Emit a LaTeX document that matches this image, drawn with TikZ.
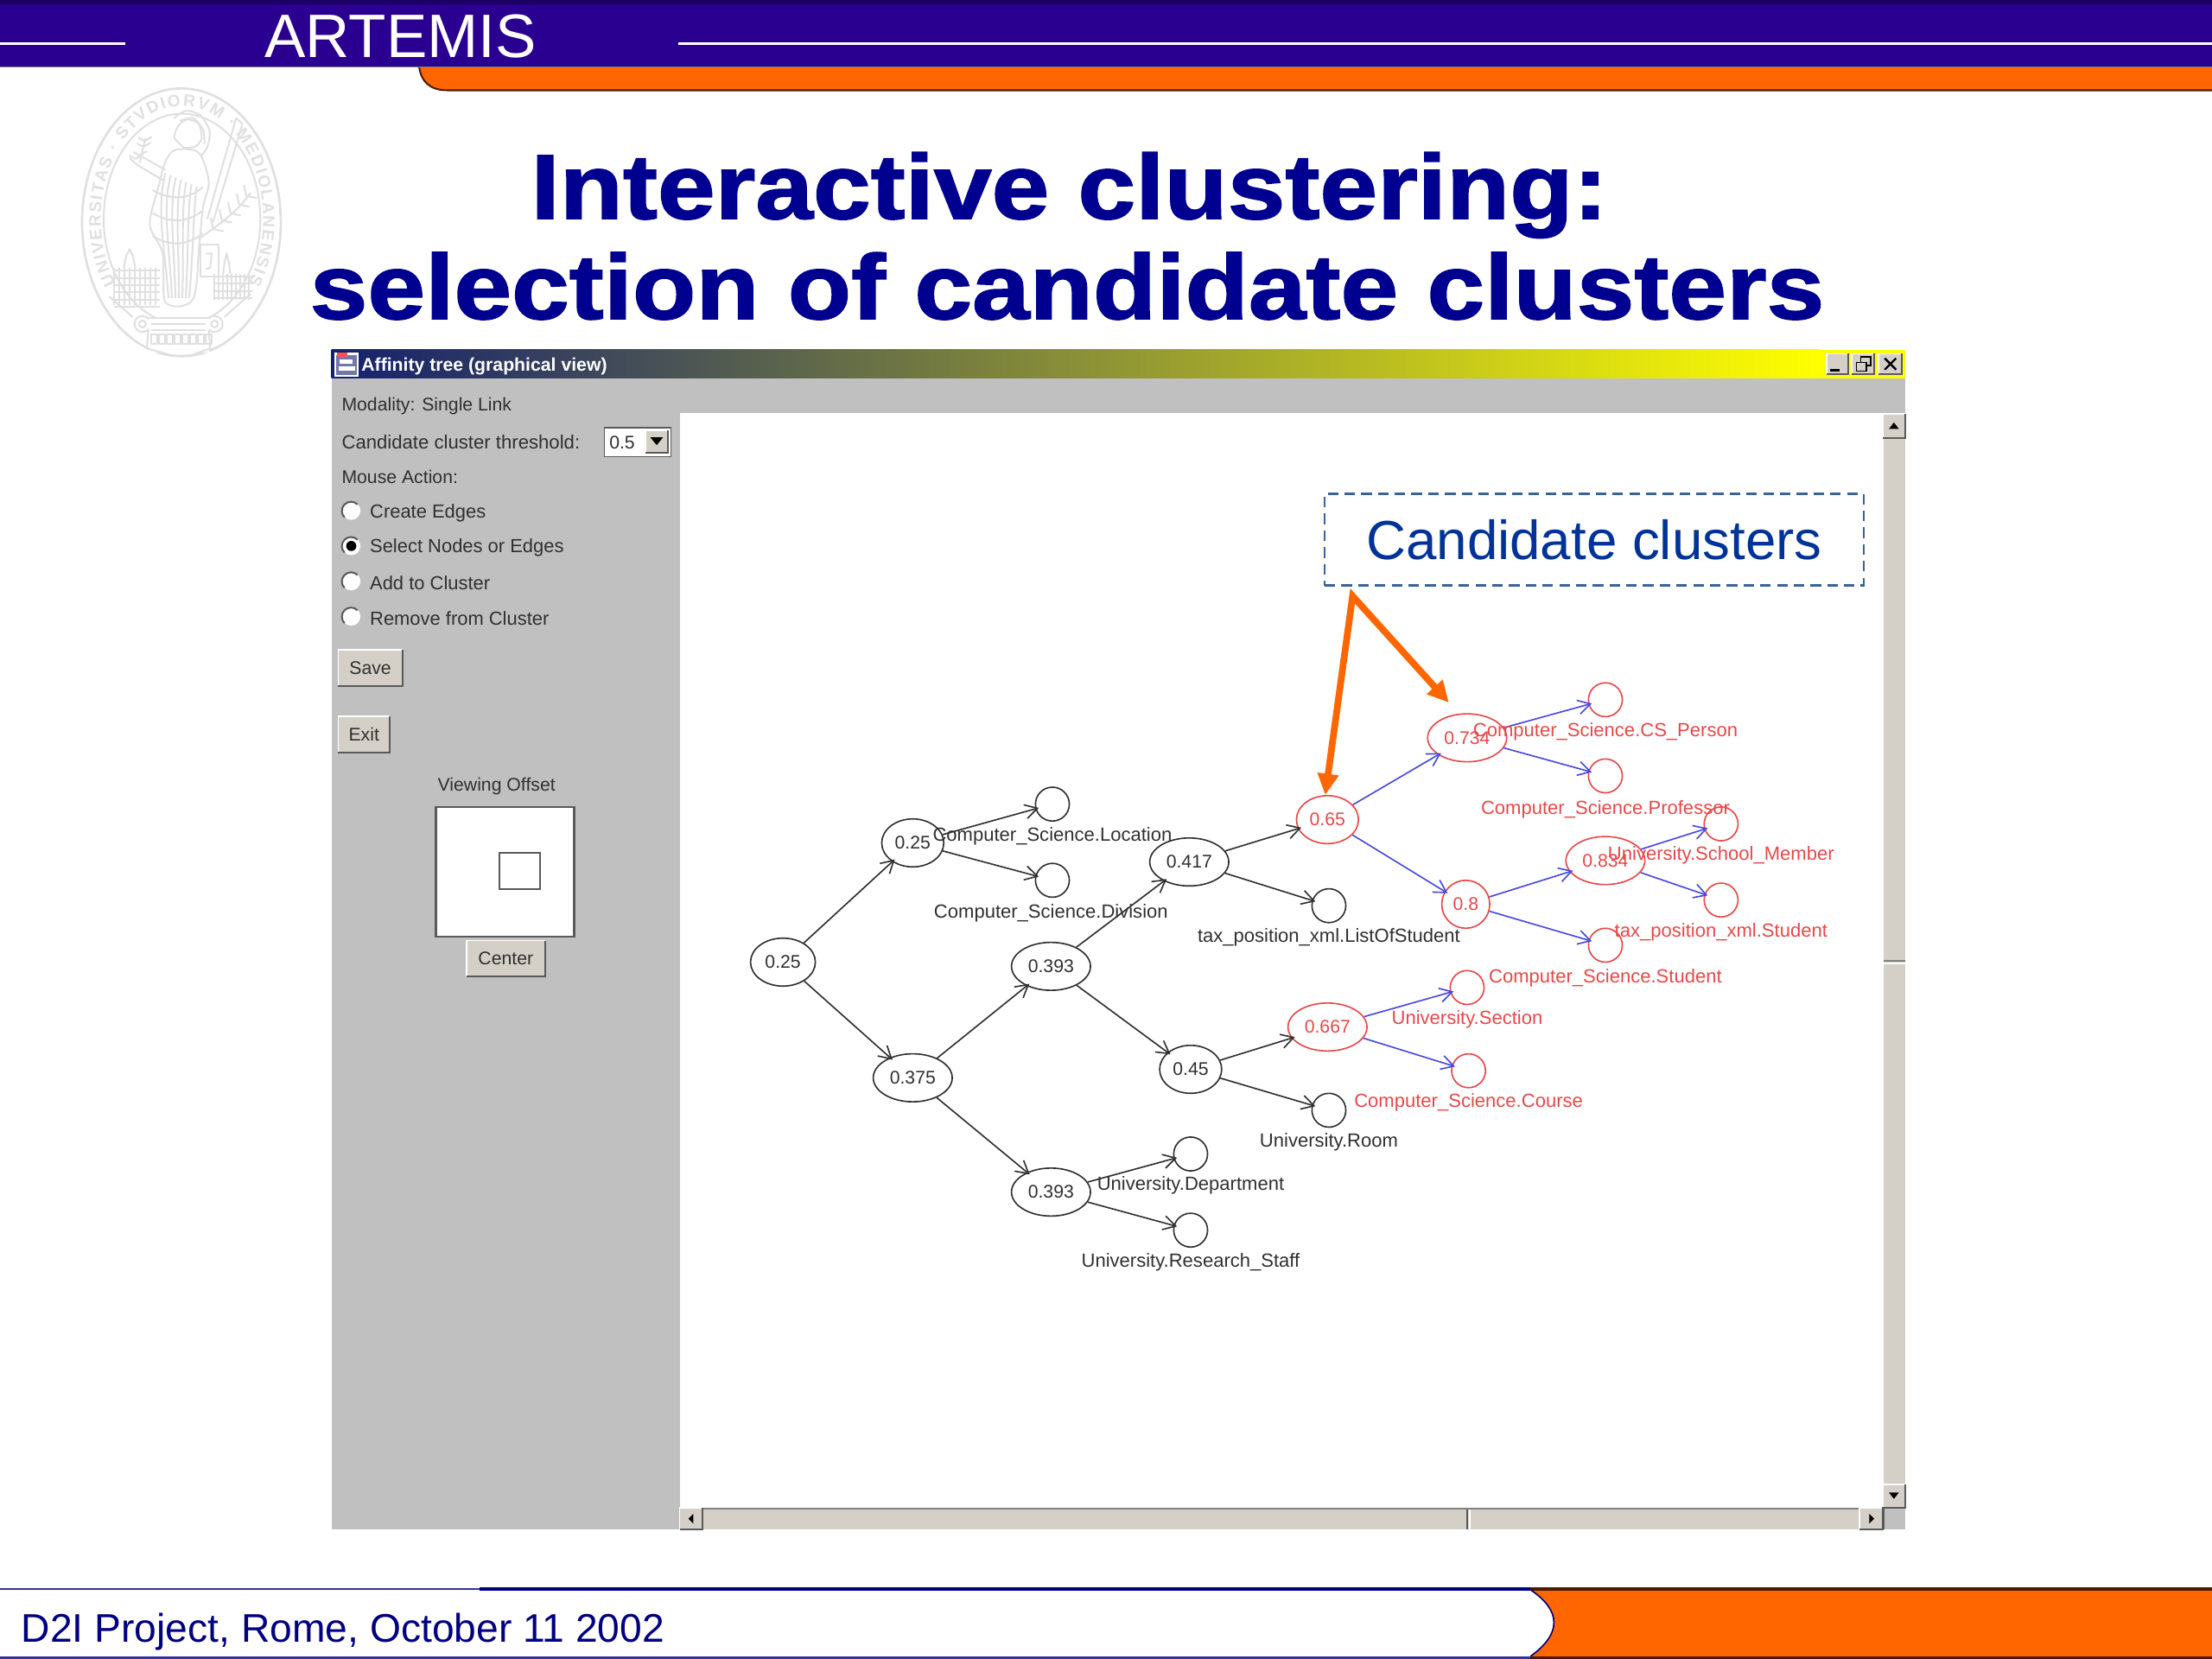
\documentclass[tikz,border=0pt]{standalone}
\usepackage{fontspec}
\setmainfont{Liberation Sans}
\newfontfamily\titlefont{Liberation Sans}[BoldFeatures={FakeStretch=1.13,FakeBold=1.6}]
\usetikzlibrary{shapes.geometric,arrows.meta,decorations.text}
\definecolor{barblue}{HTML}{2A0090}
\definecolor{bardark}{HTML}{1A0060}
\definecolor{orangeband}{HTML}{FF6600}
\definecolor{branddark}{HTML}{4A1A00}
\definecolor{titleblue}{HTML}{000090}
\definecolor{footblue}{HTML}{000080}
\definecolor{navy}{HTML}{14206E}
\definecolor{winyellow}{HTML}{FFFF00}
\definecolor{panelgrey}{HTML}{C0C0C0}
\definecolor{btnface}{HTML}{D4D0C8}
\definecolor{btndark}{HTML}{5A5A5A}
\definecolor{uitext}{HTML}{303030}
\definecolor{edgeblack}{HTML}{303030}
\definecolor{edgeblue}{HTML}{4848E0}
\definecolor{treered}{HTML}{E84848}
\definecolor{calloutblue}{HTML}{003399}
\definecolor{dashblue}{HTML}{3A6498}
\definecolor{sealgrey}{HTML}{E0E0E0}
\newcommand\uifont{\fontsize{10.4}{12}\selectfont}
\newcommand\uilong{\fontsize{10.75}{12}\selectfont}
\newcommand\treefont{\fontsize{10.8}{12}\selectfont}
\newcommand\sealfont{\fontsize{9.4}{9.4}\selectfont\bfseries\color{sealgrey}}
\tikzset{
  uitxt/.style={text=uitext,inner sep=0pt,font=\uifont,anchor=west},
  uilongtxt/.style={uitxt,font=\uilong},
  nd/.style 2 args={ellipse,draw,inner sep=0pt,line width=0.8pt,
     minimum width=2*#1*0.8pt,minimum height=2*#2*0.8pt,font=\uifont},
  blacknd/.style={draw=edgeblack,text=edgeblack},
  rednd/.style={draw=treered,text=treered},
  lbl/.style={inner sep=0pt,font=\treefont},
  blacklbl/.style={lbl,text=edgeblack},
  redlbl/.style={lbl,text=treered},
  treeedge/.style={line width=0.8pt,shorten >=-2pt,-{Straight Barb[length=7pt,width=8pt]}},
  bk/.style={treeedge,draw=edgeblack},
  bl/.style={treeedge,draw=edgeblue},
  radio/.style={circle,draw=none,fill=white,minimum size=10.4pt,inner sep=0pt},
  sealline/.style={draw=sealgrey,line width=1pt,line join=round},
}
% name, x, y, width, height (view units), text
\newcommand\btnbox[6]{%
  \node[rectangle,fill=btnface,inner sep=0pt,minimum width=#4*0.8pt,minimum height=#5*0.8pt,
        text=uitext,font=\uifont] (#1) at (#2,#3) {#6};
  \draw[white,line width=0.8pt] (#1.south west)--(#1.north west)--(#1.north east);
  \draw[btndark,line width=1pt] (#1.south west)--(#1.south east)--(#1.north east);
}
\begin{document}
\begin{tikzpicture}[x=0.8pt,y=-0.8pt]
\useasboundingbox (0,0) rectangle (1568,1176);
\fill[white] (0,0) rectangle (1568,1176);

% ---------- header
\filldraw[fill=orangeband,draw=branddark,line width=1pt] (297,46) .. controls (298,58) and (305,64) .. (317,64) -- (1569,64) -- (1569,46) -- cycle;
\fill[barblue] (0,0) rectangle (1568,47);
\fill[bardark] (0,0) rectangle (1568,3);
\fill[gray] (0,47) rectangle (1568,48);
\draw[white,line width=1.4pt] (0,31) -- (89,31);
\draw[white,line width=1.4pt] (481,31) -- (1568,31);
\node[text=white,inner sep=0pt,anchor=base,font=\fontsize{34.8}{36}\selectfont] (brand) at (284,41) {ARTEMIS};

% ---------- seal
\begin{scope}[shift={(36.75,49)},x=0.1633pt,y=-0.1633pt]
  \draw[sealline,line width=1.3pt] (450,532) ellipse[x radius=345,y radius=465];
  \draw[sealline] (452,520) ellipse[x radius=272,y radius=365];
  \path[decorate,decoration={text along path,text align={fit to path},
     text={|\sealfont|UNIVERSITAS · STVDIORVM · MEDIOLANENSIS}}]
     ([shift={(145:282 and 392)}]452,520) arc[start angle=145,delta angle=250,x radius=282,y radius=392];
  % figure: head and helmet
  \draw[sealline] plot[smooth cycle] coordinates {(425,235) (440,195) (470,175) (510,190) (520,240) (500,268) (460,272) (440,255)};
  \draw[sealline] plot[smooth] coordinates {(425,170) (465,145) (515,160) (548,215) (540,270) (520,300)};
  \draw[sealline] plot[smooth] coordinates {(445,180) (490,170) (525,210) (530,260)};
  % figure: robe
  \draw[sealline] plot[smooth cycle] coordinates {(430,280) (510,290) (545,390) (525,480) (512,610) (490,800)
      (395,810) (385,640) (340,540) (370,410) (395,320)};
  \foreach \k in {0,...,6}{
    \draw[sealline] (395+18*\k,360+8*\k) .. controls (360+22*\k,480) and (395+16*\k,640) .. (405+12*\k,795);}
  \foreach \yy in {420,500,580}{
    \draw[sealline] (350,\yy) .. controls (410,\yy+35) and (470,\yy+35) .. (525,\yy-10);}
  % figure: arm and olive branch
  \draw[sealline] (385,385) -- (300,335) -- (270,310);
  \draw[sealline] (395,350) -- (315,305);
  \draw[sealline] (305,325) -- (325,240);
  \foreach \a/\b in {318/270,322/250,305/300,290/312}{
    \draw[sealline] (\a,\b) -- ++(25,-15);
    \draw[sealline] (\a,\b) -- ++(-22,-12);}
  % spear
  \draw[sealline] (640,170) -- (540,520);
  \draw[sealline] (662,190) -- (560,530);
  \draw[sealline] (640,170) -- (662,190);
  % branch
  \draw[sealline] (510,590) .. controls (580,540) and (640,500) .. (690,430);
  \foreach \a/\b in {560/555,590/525,620/500,650/470,675/440}{
    \draw[sealline] (\a,\b) -- ++(-8,-38);
    \draw[sealline] (\a,\b) -- ++(36,8);}
  \draw[sealline] (515,610) rectangle (578,720);
  \draw[sealline] (535,640) -- (555,640) -- (550,690) -- (535,695);
  % city
  \foreach \k in {0,...,8}{
    \draw[sealline] (215+18*\k,690) -- (215+18*\k,820);
    \draw[sealline] (565+15*\k,710) -- (565+15*\k,800);}
  \foreach \yy in {700,725,750,775,800,825}{
    \draw[sealline] (215,\yy) -- (375,\yy);}
  \foreach \yy in {720,745,770,795}{
    \draw[sealline] (565,\yy) -- (695,\yy);}
  \draw[sealline] (250,690) -- (258,650) -- (270,625) -- (282,650) -- (290,690);
  \draw[sealline] (595,710) -- (600,670) -- (607,640) -- (614,670) -- (620,710);
  % base
  \draw[sealline] (315,885) circle[radius=28];
  \draw[sealline] (315,885) circle[radius=12];
  \draw[sealline] (565,885) circle[radius=28];
  \draw[sealline] (565,885) circle[radius=12];
  \fill[white] (335,860) rectangle (545,985);
  \draw[sealline] (335,865) -- (545,865);
  \draw[sealline] (345,885) -- (535,885);
  \draw[sealline] (345,905) -- (535,905);
  \foreach \k in {0,...,7}{
    \draw[sealline] (345+27*\k,920) rectangle ++(20,35);}
  \draw[sealline] (335,905) -- (330,970) -- (420,995) -- (480,995) -- (550,970) -- (545,905);
  \draw[sealline] (280,860) -- (200,790);
  \draw[sealline] (600,860) -- (690,780);
\end{scope}

% ---------- title
\node[text=titleblue,inner sep=0pt,anchor=base,font=\fontsize{52}{56}\selectfont\titlefont\bfseries] (t1) at (758,155) {Interactive clustering:};
\node[text=titleblue,inner sep=0pt,anchor=base,font=\fontsize{52}{56}\selectfont\titlefont\bfseries] (t2) at (756.5,226) {selection of candidate clusters};

% ---------- window
\fill[panelgrey] (235,248) rectangle (1350.5,1084);
\shade[left color=navy,right color=winyellow] (235,248) rectangle (1290,268);
\fill[winyellow] (1290,248) rectangle (1350.5,268);
\fill[white] (482,293) rectangle (1335,1069);
% icon
\fill[white] (237,250) rectangle (254,267);
\fill[navy!60] (238,252) rectangle (253,266);
\fill[red!70] (239,250) rectangle (246,253);
\fill[white] (241,255) rectangle (250,258);
\fill[white] (240,260) rectangle (252,263);
\node[text=white,inner sep=0pt,anchor=west,font=\uifont\bfseries] (wtitle) at (256,259.5) {Affinity tree (graphical view)};
% window buttons
\btnbox{bmin}{1302.5}{258}{15}{14}{}
\btnbox{bmax}{1320.5}{258}{15}{14}{}
\btnbox{bclose}{1340}{258}{16}{14}{}
\draw[black,line width=1.4pt] (1297,262.5) -- (1304,262.5);
\draw[black,line width=0.8pt] (1316,257) rectangle (1323,263);
\draw[black,line width=0.8pt] (1319,257) -- (1319,253) -- (1326,253) -- (1326,259) -- (1323,259);
\draw[black,line width=1.2pt] (1336,254) -- (1344,262) (1344,254) -- (1336,262);
% panel
\node[uitxt] (mod) at (242,288) {Modality: Single Link};
\node[uilongtxt,font=\fontsize{10.85}{12}\selectfont] (cand) at (242,313.5) {Candidate cluster threshold:};
\node[uitxt] (mouse) at (242,338) {Mouse Action:};
\node[fill=white,draw=btndark,line width=0.7pt,inner sep=0pt,minimum width=37.6pt,minimum height=16.4pt] (combo) at (452,313.5) {};
\node[text=uitext,inner sep=0pt,font=\uifont] (combov) at (441,314) {0.5};
\btnbox{comboa}{465.5}{313}{15}{15}{}
\fill[black] (461,310) -- (470,310) -- (465.5,315.5) -- cycle;
\foreach \nm/\yy/\tx in {ra/362/Create Edges,rb/387/Select Nodes or Edges,rc/412/Add to Cluster,rd/437/Remove from Cluster}{
  \node[radio] (\nm) at (249,\yy) {};
  \draw[btndark,line width=1pt] (\nm.south west) arc[start angle=135,end angle=315,radius=6.5];
  \node[uilongtxt] (\nm t) at (262,\yy+1.5) {\tx};
}
\fill[black] (249,387) circle[radius=3.6];
\btnbox{save}{262.5}{473.5}{45}{25}{Save}
\btnbox{exit}{258}{520.5}{36}{25}{Exit}
\node[text=uitext,inner sep=0pt,font=\uifont] (vo) at (352,557.5) {Viewing Offset};
\node[rectangle,draw=btndark,fill=white,line width=1.2pt,inner sep=0pt,minimum width=78.4pt,minimum height=73.6pt] (vbox) at (358,618) {};
\node[rectangle,draw=btndark,line width=1pt,inner sep=0pt,minimum width=23pt,minimum height=20.4pt] (vin) at (368.5,617.5) {};
\btnbox{cent}{358.5}{679.5}{55}{25}{Center}
% vertical scrollbar
\fill[btnface] (1335,293) rectangle (1350.5,1069);
\draw[gray,line width=0.8pt] (1335,681) -- (1350.5,681);
\draw[white,line width=1pt] (1335,683) -- (1350.5,683);
\draw[white,line width=0.8pt] (1335,293) -- (1335,1069);
\btnbox{sup}{1342.5}{302}{15.5}{17}{}
\fill[black] (1339,304) -- (1346,304) -- (1342.5,299.5) -- cycle;
\btnbox{sdown}{1342.5}{1060.5}{15.5}{16}{}
\fill[black] (1339,1058) -- (1346,1058) -- (1342.5,1062.5) -- cycle;
% horizontal scrollbar
\fill[btnface] (482,1069) rectangle (1335,1084);
\draw[gray,line width=0.8pt] (482,1069.5) -- (1335,1069.5);
\draw[btndark,line width=0.7pt] (1040,1070) -- (1040,1084);
\draw[white,line width=0.8pt] (1042,1070) -- (1042,1084);
\btnbox{sleft}{490}{1076.5}{16}{15}{}
\fill[black] (491.5,1073) -- (491.5,1080) -- (488,1076.5) -- cycle;
\btnbox{sright}{1326.5}{1076.5}{16}{15}{}
\fill[black] (1325,1073) -- (1325,1080) -- (1328.5,1076.5) -- cycle;
\draw[btndark,line width=1.1pt] (1335,1084) -- (1335,1069) -- (1350.5,1069) -- (1350.5,1052);

% ---------- tree nodes
\node[nd={23}{17},blacknd] (n1) at (555,682) {0.25};
\node[nd={22}{17},blacknd] (n2) at (647,597.5) {0.25};
\node[nd={28}{17},blacknd] (n3) at (647,764) {0.375};
\node[nd={28}{17},blacknd] (n4) at (745,685) {0.393};
\node[nd={28}{17},blacknd] (n5) at (745,845) {0.393};
\node[nd={28}{17},blacknd] (n6) at (843,611) {0.417};
\node[nd={22}{17},blacknd] (n7) at (844,758) {0.45};
\node[nd={12}{12},blacknd] (lLoc) at (746,570) {};
\node[nd={12}{12},blacknd] (lDiv) at (746,624) {};
\node[nd={12}{12},blacknd] (lList) at (942,642) {};
\node[nd={12}{12},blacknd] (lRoom) at (942,787) {};
\node[nd={12}{12},blacknd] (lDept) at (844,818) {};
\node[nd={12}{12},blacknd] (lStaff) at (844,872) {};
\node[nd={22}{17},rednd] (r65) at (941,581) {0.65};
\node[nd={28}{17},rednd] (r734) at (1040,523) {0.734};
\node[nd={17}{17},rednd] (r8) at (1039,641) {0.8};
\node[nd={28}{17},rednd] (r834) at (1138,610) {0.834};
\node[nd={28}{17},rednd] (r667) at (941,728) {0.667};
\node[nd={12}{12},rednd] (lPers) at (1138,496) {};
\node[nd={12}{12},rednd] (lProf) at (1138,550) {};
\node[nd={12}{12},rednd] (lSch) at (1220,584) {};
\node[nd={12}{12},rednd] (lXml) at (1220,638) {};
\node[nd={12}{12},rednd] (lStu) at (1138,670) {};
\node[nd={12}{12},rednd] (lSec) at (1040,700) {};
\node[nd={12}{12},rednd] (lCou) at (1041,759) {};
% ---------- tree edges
\foreach \a/\b in {n1/n2,n1/n3,n2/lLoc,n2/lDiv,n3/n4,n3/n5,n4/n6,n4/n7,n6/r65,n6/lList,n7/r667,n7/lRoom,n5/lDept,n5/lStaff}
  \draw[bk] (\a) -- (\b);
\foreach \a/\b in {r65/r734,r65/r8,r734/lPers,r734/lProf,r8/r834,r8/lStu,r834/lSch,r834/lXml,r667/lSec,r667/lCou}
  \draw[bl] (\a) -- (\b);
% ---------- tree labels
\node[blacklbl] (tLoc) at (746,592.5) {Computer\_Science.Location};
\node[blacklbl] (tDiv) at (745,647.5) {Computer\_Science.Division};
\node[blacklbl] (tList) at (942,664.5) {tax\_position\_xml.ListOfStudent};
\node[blacklbl] (tRoom) at (942,809.5) {University.Room};
\node[blacklbl] (tDept) at (844,840.5) {University.Department};
\node[blacklbl] (tStaff) at (844,894.5) {University.Research\_Staff};
\node[redlbl] (tPers) at (1138,518.5) {Computer\_Science.CS\_Person};
\node[redlbl] (tProf) at (1138,573.5) {Computer\_Science.Professor};
\node[redlbl] (tSch) at (1220,606.5) {University.School\_Member};
\node[redlbl] (tXml) at (1220,660.5) {tax\_position\_xml.Student};
\node[redlbl] (tStu) at (1138,693.5) {Computer\_Science.Student};
\node[redlbl] (tSec) at (1040,722.5) {University.Section};
\node[redlbl] (tCou) at (1041,781.5) {Computer\_Science.Course};

% ---------- callout
\node[rectangle,draw=dashblue,dash pattern=on 6pt off 3.5pt,line width=1.2pt,text=calloutblue,inner sep=0pt,
      minimum width=305.6pt,minimum height=52pt,font=\fontsize{31.2}{34}\selectfont] (callout) at (1130,382.5) {Candidate clusters};
\coordinate (apex) at (958.8,422.5);
\coordinate (tipa) at (939.4,563.5);
\coordinate (tipb) at (1027,498);
\draw[orangeband,line width=3.8pt,line join=miter,miter limit=10,
   {Triangle[length=12pt,width=11.5pt]}-{Triangle[length=12pt,width=11.5pt]}] (tipa) -- (apex) -- (tipb);

% ---------- footer
\fill[orangeband] (1085,1126) rectangle (1568,1175);
\fill[branddark] (1085,1125) rectangle (1568,1127.5);
\fill[branddark] (1085,1174) rectangle (1568,1176);
\filldraw[fill=white,draw=none] (0,1127) -- (1085,1127) .. controls (1107,1142) and (1107,1158) .. (1085,1174) -- (0,1174) -- cycle;
\draw[footblue,line width=0.8pt] (1085,1127) .. controls (1107,1142) and (1107,1158) .. (1085,1174);
\fill[footblue!80!white] (0,1126) rectangle (340,1127.2);
\fill[footblue] (340,1125) rectangle (1085,1127.5);
\fill[footblue!80!white] (0,1174) rectangle (1085,1176);
\node[text=footblue,inner sep=0pt,anchor=west,font=\fontsize{22.65}{24}\selectfont] (foot) at (15,1156.5) {D2I Project, Rome, October 11 2002};
\end{tikzpicture}
\end{document}
